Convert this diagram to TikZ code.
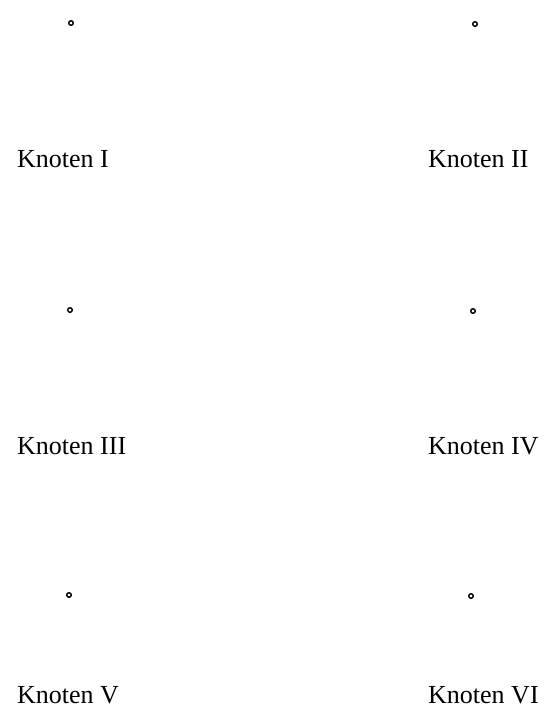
\documentclass[tikz,border=0pt]{standalone}
\usepackage{fontspec}
\setmainfont{Liberation Serif}
\begin{document}
\begin{tikzpicture}[x=1pt,y=-1pt,
  knot/.style={circle,draw=black,line width=1.4pt,inner sep=0pt,minimum size=4.6pt},
  lbl/.style={anchor=base west,inner sep=0pt,font=\fontsize{26}{30}\selectfont}]
\useasboundingbox (0,0) rectangle (545,713);
\node[knot] (k1) at (71,23) {};
\node[knot] (k2) at (475,24) {};
\node[knot] (k3) at (70,310) {};
\node[knot] (k4) at (473,311) {};
\node[knot] (k5) at (69,595) {};
\node[knot] (k6) at (471,596) {};
\node[lbl] (l1) at (17,167) {Knoten I};
\node[lbl] (l2) at (428,167) {Knoten II};
\node[lbl] (l3) at (17,454) {Knoten III};
\node[lbl] (l4) at (428,454) {Knoten IV};
\node[lbl] (l5) at (17,703) {Knoten V};
\node[lbl] (l6) at (428,703) {Knoten VI};
\end{tikzpicture}
\end{document}
